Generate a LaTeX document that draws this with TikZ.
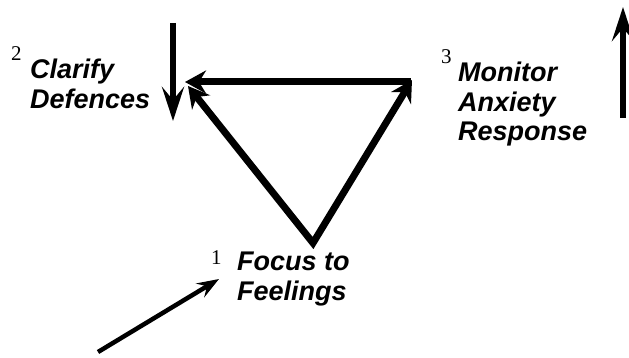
\documentclass[tikz,border=0pt]{standalone}
\usepackage{fontspec}
\setmainfont{Liberation Serif}
\setsansfont{Liberation Sans}
\usetikzlibrary{arrows.meta,positioning}
\tikzset{
  % Base styles
  cycle base/.style={
    x=1pt, y=-1pt,
    every node/.style={inner sep=0pt},
  },
  % Step labels
  step label/.style={font=\sffamily\bfseries\itshape\fontsize{27}{29.5}\selectfont, align=left, anchor=north west},
  step number/.style={font=\fontsize{21}{21}\selectfont, anchor=north west},
  % Arrows
  cycle arrow/.style={line width=7pt, miter limit=10, >={Stealth[length=21pt, width=23pt, inset=7pt]}},
  side arrow/.style={line width=5.5pt, -{Stealth[length=34pt, width=22pt, inset=13pt]}},
  entry arrow/.style={line width=4.5pt, -{Stealth[length=22pt, width=16pt, inset=8pt]}},
}

\begin{document}
\begin{tikzpicture}[cycle base]
\useasboundingbox (0,0) rectangle (629,358);

% Step labels
\node[step label] (clarify) at (30,59) {Clarify\\Defences};
\node[step label] (monitor) at (458,62) {Monitor\\Anxiety\\Response};
\node[step label] (focus) at (237,252) {Focus to\\Feelings};

% Step numbers
\node[step number] (num2) at (11,46) {2};
\node[step number] (num3) at (441,49) {3};
\node[step number] (num1) at (211,250) {1};

% Triangle corners
\coordinate (focusV) at (313,243);
\coordinate (monitorV) at (412,80);
\coordinate (clarifyV) at (185,82);
\coordinate (clarifyD) at (188,86);

% Cycle
\draw[cycle arrow, <->] (clarifyD) -- (focusV) -- (monitorV);
\draw[cycle arrow, ->] (411,82) -- (clarifyV);

% Side arrows
\coordinate (downTop) at (173,23);
\coordinate (downEnd) at (173,121);
\coordinate (upBot) at (623,118);
\coordinate (upEnd) at (623,7);
\coordinate (entryStart) at (98,352);
\coordinate (entryEnd) at (219,279);
\draw[side arrow] (downTop) -- (downEnd);
\draw[side arrow] (upBot) -- (upEnd);
\draw[entry arrow] (entryStart) -- (entryEnd);
\end{tikzpicture}
\end{document}
